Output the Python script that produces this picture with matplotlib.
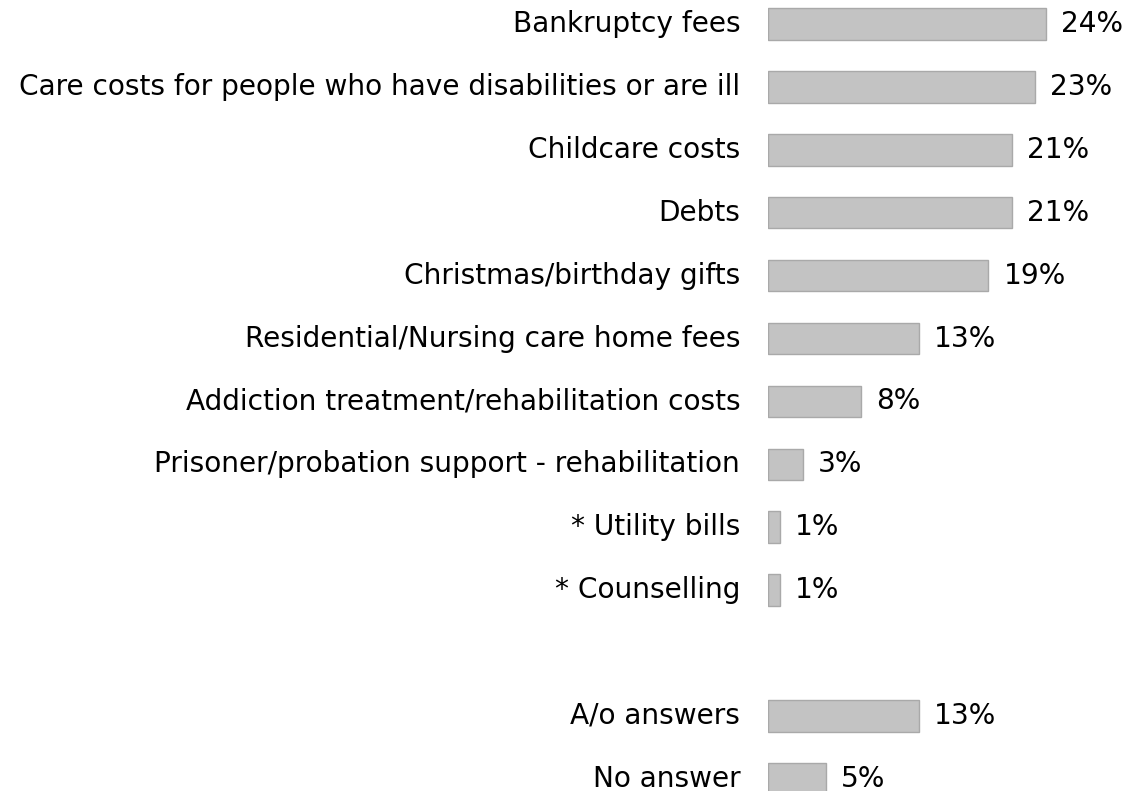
import matplotlib
matplotlib.use("Agg")
import matplotlib.pyplot as plt
import matplotlib.transforms as mtransforms

categories = [
    "Bankruptcy fees",
    "Care costs for people who have disabilities or are ill",
    "Childcare costs",
    "Debts",
    "Christmas/birthday gifts",
    "Residential/Nursing care home fees",
    "Addiction treatment/rehabilitation costs",
    "Prisoner/probation support - rehabilitation",
    "* Utility bills",
    "* Counselling",
    "",
    "A/o answers",
    "No answer",
]
values = [24, 23, 21, 21, 19, 13, 8, 3, 1, 1, None, 13, 5]

W, H = 1132, 791
fig = plt.figure(figsize=(W / 100, H / 100), dpi=100)

# bars start at x=768 px, about 11.6 px per percent
x0_px = 768
px_per_pct = 11.6
ax = fig.add_axes([x0_px / W, 0, 1 - x0_px / W, 1])
ax.set_xlim(0, (W - x0_px) / px_per_pct)

# row centres: first at ~24 px from top, 62.9 px apart
row_px = 62.9
top_px = 24
ax.set_ylim(12 + (H - top_px - 12 * row_px) / row_px, -top_px / row_px)

fs = 20.2
for i, v in enumerate(values):
    if v is None:
        continue
    ax.barh(i, v, height=0.5, color="#c3c3c3", edgecolor="#a9a9a9", linewidth=1)
    ax.annotate(f"{v}%", (v, i), xytext=(15, 3), textcoords="offset pixels",
                ha="left", va="center_baseline", fontsize=fs, color="black")

ax.set_yticks(range(len(categories)))
ax.set_yticklabels(categories, fontsize=fs)
ax.tick_params(axis="y", length=0, pad=20)
# nudge labels up a little
shift = mtransforms.ScaledTranslation(0, 3 / 100, fig.dpi_scale_trans)
for lab in ax.get_yticklabels():
    lab.set_transform(lab.get_transform() + shift)
ax.set_xticks([])
for s in ax.spines.values():
    s.set_visible(False)

plt.savefig("out.png", dpi=100)
